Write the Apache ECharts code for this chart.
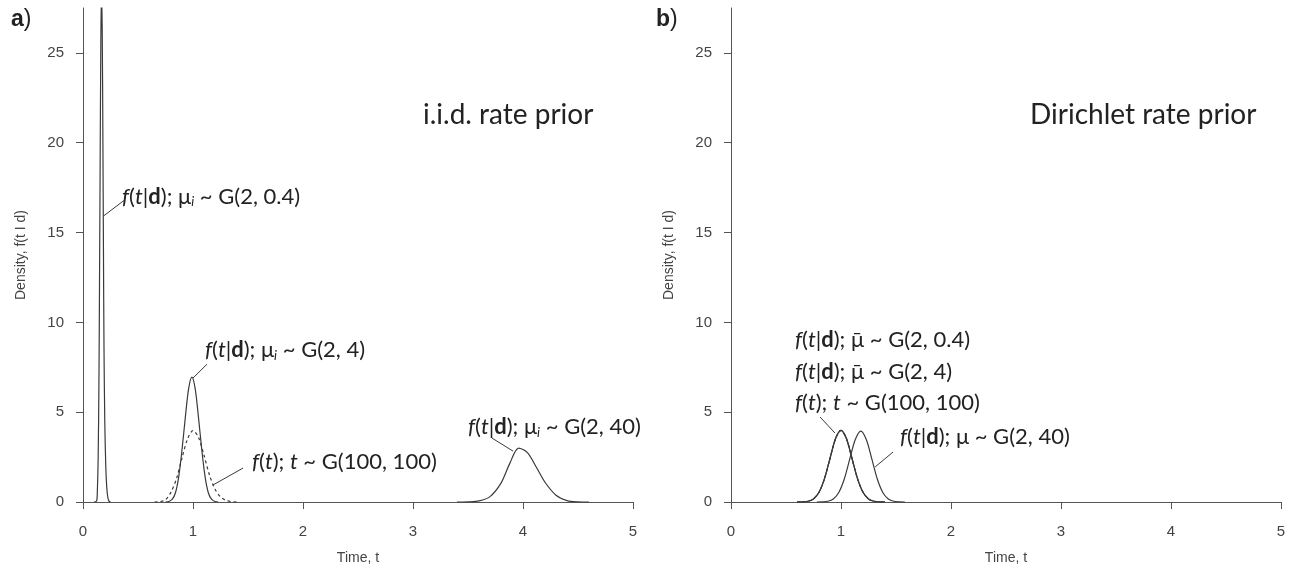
<!DOCTYPE html>
<html>
<head>
<meta charset="utf-8">
<script src="https://cdn.jsdelivr.net/npm/echarts@6/dist/echarts.min.js"></script>
<style>html,body{margin:0;padding:0;background:#fff}#c{width:1294px;height:571px}</style>
</head>
<body>
<div id="c"></div>
<script>
// ---- data (time t, density) ----
const yTicks = [0, 5, 10, 15, 20, 25];
const xTicks = [0, 1, 2, 3, 4, 5];

// panel a) i.i.d. rate prior
const iidG2_04 = [[0.10,0],[0.124,0.05],[0.13,0.5],[0.138,2.5],[0.145,6.8],[0.15,12],[0.156,19],[0.162,25.5],[0.168,28.5],[0.175,26],[0.181,20],[0.186,14],[0.191,8.5],[0.198,4.5],[0.207,2],[0.216,0.8],[0.226,0.25],[0.236,0.05],[0.25,0]];
const iidG2_4 = [[0.75,0],[0.78,0.03],[0.81,0.14],[0.84,0.5],[0.87,1.4],[0.90,2.9],[0.93,4.7],[0.96,6.3],[0.99,6.95],[1.02,6.3],[1.05,4.7],[1.08,2.9],[1.11,1.4],[1.14,0.5],[1.17,0.14],[1.20,0.03],[1.23,0]];
const priorG100 = [[0.65,0],[0.70,0.02],[0.75,0.12],[0.80,0.55],[0.85,1.3],[0.90,2.45],[0.95,3.5],[1.00,3.98],[1.05,3.6],[1.10,2.6],[1.15,1.5],[1.20,0.72],[1.25,0.28],[1.30,0.09],[1.35,0.02],[1.40,0]];
const iidG2_40 = [[3.40,0],[3.50,0.01],[3.60,0.06],[3.70,0.3],[3.80,1.05],[3.88,2.15],[3.96,3.0],[4.04,2.75],[4.12,1.95],[4.20,1.1],[4.30,0.38],[4.40,0.08],[4.50,0.01],[4.60,0]];

// panel b) Dirichlet rate prior (the first three curves coincide in the picture)
const dirG2_04 = [[0.60,0],[0.65,0.01],[0.70,0.04],[0.75,0.17],[0.80,0.54],[0.85,1.3],[0.90,2.42],[0.95,3.52],[1.00,3.99],[1.05,3.52],[1.10,2.42],[1.15,1.3],[1.20,0.54],[1.25,0.17],[1.30,0.04],[1.35,0.01],[1.40,0]];
const dirG2_4 = [[0.60,0],[0.65,0.01],[0.70,0.04],[0.75,0.17],[0.80,0.54],[0.85,1.3],[0.90,2.42],[0.95,3.52],[1.00,3.99],[1.05,3.52],[1.10,2.42],[1.15,1.3],[1.20,0.54],[1.25,0.17],[1.30,0.04],[1.35,0.01],[1.40,0]];
const dirPrior = [[0.60,0],[0.65,0.01],[0.70,0.04],[0.75,0.17],[0.80,0.54],[0.85,1.3],[0.90,2.42],[0.95,3.52],[1.00,3.99],[1.05,3.52],[1.10,2.42],[1.15,1.3],[1.20,0.54],[1.25,0.17],[1.30,0.04],[1.35,0.01],[1.40,0]];
const dirG2_40 = [[0.78,0],[0.83,0.01],[0.88,0.04],[0.93,0.17],[0.98,0.53],[1.03,1.28],[1.08,2.4],[1.13,3.48],[1.18,3.95],[1.23,3.48],[1.28,2.4],[1.33,1.28],[1.38,0.53],[1.43,0.17],[1.48,0.04],[1.53,0.01],[1.58,0]];

// annotation leader lines (data coords) and label anchors
const leadersA = [[[0.182,15.9],[0.382,16.83]],[[1.0,6.9],[1.127,7.67]],[[1.18,0.94],[1.455,1.89]],[[3.91,2.83],[3.718,3.56]]];
const leadersB = [[[0.945,3.84],[0.81,4.73]],[[1.31,1.95],[1.473,2.78]]];
const labelsA = [
  {at:[0.355,17.0], text:'{i|f}({i|t}|{b|d}); μ{s|i} ~ G(2, 0.4)'},
  {at:[1.109,8.44], text:'{i|f}({i|t}|{b|d}); μ{s|i} ~ G(2, 4)'},
  {at:[1.536,2.22], text:'{i|f}({i|t}); {i|t} ~ G(100, 100)'},
  {at:[3.50,4.17], text:'{i|f}({i|t}|{b|d}); μ{s|i} ~ G(2, 40)'}
];
const labelsB = [
  {at:[0.582,9.02], text:'{i|f}({i|t}|{b|d}); μ\u0304 ~ G(2, 0.4)'},
  {at:[0.582,7.24], text:'{i|f}({i|t}|{b|d}); μ\u0304 ~ G(2, 4)'},
  {at:[0.582,5.51], text:'{i|f}({i|t}); {i|t} ~ G(100, 100)'},
  {at:[1.536,3.62], text:'{i|f}({i|t}|{b|d}); μ ~ G(2, 40)'}
];

const AX = '#555', TXT = '#444', LINE = '#3a3a3a';
const FONT = 'Liberation Sans';
const LFONT = 'Lato';
const AFS = 22;

function xAxis(idx){
  return {gridIndex:idx, type:'value', min:0, max:5, interval:1,
    name:'Time, t', nameLocation:'middle', nameGap:49,
    nameTextStyle:{color:TXT, fontSize:14, fontFamily:FONT},
    axisLine:{show:true, onZero:false, lineStyle:{color:AX, width:1}},
    axisTick:{show:true, length:7, inside:false, lineStyle:{color:AX}, customValues:xTicks},
    axisLabel:{color:TXT, fontSize:15, fontFamily:FONT, margin:22, customValues:xTicks},
    splitLine:{show:false}};
}
function yAxis(idx){
  return {gridIndex:idx, type:'value', min:0, max:27.5, interval:5,
    name:'Density, f(t I d)', nameLocation:'middle', nameGap:55, nameRotate:90,
    nameTextStyle:{color:TXT, fontSize:14, fontFamily:FONT},
    axisLine:{show:true, onZero:false, lineStyle:{color:AX, width:1}},
    axisTick:{show:true, length:7, inside:false, lineStyle:{color:AX}, customValues:yTicks},
    axisLabel:{color:TXT, fontSize:15, fontFamily:FONT, margin:19, customValues:yTicks},
    splitLine:{show:false}};
}
function curve(idx, data, dashed){
  return {type:'line', xAxisIndex:idx, yAxisIndex:idx, data:data, showSymbol:false, symbol:'none',
    smooth:0.3, clip:true, silent:true,
    lineStyle:{color:LINE, width:1.2, type: dashed ? [3,3] : 'solid'}};
}
function leader(idx, seg){
  return {type:'line', xAxisIndex:idx, yAxisIndex:idx, data:seg, showSymbol:false, symbol:'none',
    silent:true, clip:false, lineStyle:{color:LINE, width:1}};
}

const chart = echarts.init(document.getElementById('c'), null, {renderer:'canvas'});
const series = [
  curve(0, iidG2_04), curve(0, iidG2_4), curve(0, priorG100, true), curve(0, iidG2_40),
  curve(1, dirPrior, true), curve(1, dirG2_04), curve(1, dirG2_4), curve(1, dirG2_40)
];
leadersA.forEach(s => series.push(leader(0, s)));
leadersB.forEach(s => series.push(leader(1, s)));

chart.setOption({
  animation:false,
  backgroundColor:'#fff',
  grid:[
    {left:83, top:8, width:550, height:494, containLabel:false, outerBoundsMode:'none'},
    {left:731, top:8, width:550, height:494, containLabel:false, outerBoundsMode:'none'}
  ],
  xAxis:[xAxis(0), xAxis(1)],
  yAxis:[yAxis(0), yAxis(1)],
  series:series
});

const rich = {
  i:{fontStyle:'italic', fontSize:AFS, fontFamily:LFONT, color:'#222'},
  b:{fontWeight:'bold', fontSize:AFS, fontFamily:LFONT, color:'#222'},
  s:{fontStyle:'italic', fontSize:13, fontFamily:LFONT, color:'#222', verticalAlign:'bottom', padding:[11,0,0,0]}
};
const graphics = [];
function addLabels(list, idx){
  list.forEach(l => {
    const p = chart.convertToPixel({gridIndex:idx}, l.at);
    graphics.push({type:'text', x:p[0], y:p[1], silent:true,
      style:{text:l.text, rich:rich, fontSize:AFS, fontFamily:LFONT, fill:'#222', verticalAlign:'middle', align:'left'}});
  });
}
addLabels(labelsA, 0);
addLabels(labelsB, 1);
const panelRich = {b:{fontWeight:'bold',fontSize:23,fontFamily:FONT,fill:'#222'}, r:{fontSize:23,fontFamily:FONT,fill:'#222'}};
graphics.push({type:'text', x:11, y:20, style:{text:'{b|a}{r|)}', rich:panelRich, verticalAlign:'middle'}});
graphics.push({type:'text', x:656, y:20, style:{text:'{b|b}{r|)}', rich:panelRich, verticalAlign:'middle'}});
graphics.push({type:'text', x:423, y:115, style:{text:'i.i.d. rate prior', fontSize:28, fontFamily:LFONT, fill:'#222', verticalAlign:'middle'}});
graphics.push({type:'text', x:1030, y:115, style:{text:'Dirichlet rate prior', fontSize:28, fontFamily:LFONT, fill:'#222', verticalAlign:'middle'}});
chart.setOption({graphic:graphics});
</script>
</body>
</html>
